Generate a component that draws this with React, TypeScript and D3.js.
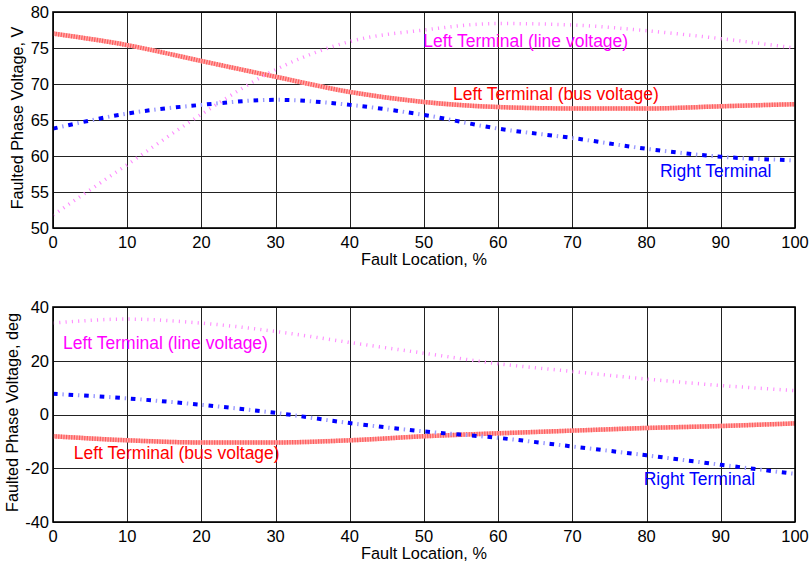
import React from "react";
import * as d3 from "d3";

const faultLocation = [0, 10, 20, 30, 40, 50, 60, 70, 80, 90, 100];

// Top panel: magnitude (V)
const magLine = [51.8, 58.8, 65.8, 72.0, 75.9, 77.5, 78.4, 78.2, 77.4, 76.3, 75.0];
const magBus = [77.0, 75.4, 73.2, 71.0, 68.9, 67.5, 66.8, 66.6, 66.6, 66.9, 67.2];
const magRight = [63.8, 65.9, 67.1, 67.8, 67.1, 65.7, 63.8, 62.5, 61.0, 59.9, 59.4];

// Bottom panel: angle (deg)
const angLine = [34.0, 35.5, 34.0, 30.9, 26.8, 22.8, 18.9, 16.0, 13.2, 10.8, 8.9];
const angBus = [-8.1, -9.6, -10.4, -10.4, -9.6, -8.1, -7.0, -6.0, -5.0, -4.3, -3.3];
const angRight = [7.7, 6.0, 3.6, 0.6, -3.2, -6.3, -8.7, -11.9, -15.2, -18.7, -22.1];

const xTicks = [0, 10, 20, 30, 40, 50, 60, 70, 80, 90, 100];
const magTicks = [50, 55, 60, 65, 70, 75, 80];
const angTicks = [-40, -20, 0, 20, 40];

const labelLine = "Left Terminal (line voltage)";
const labelBus = "Left Terminal (bus voltage)";
const labelRight = "Right Terminal";
const xTitle = "Fault Location, %";
const yTitleTop = "Faulted Phase Voltage, V";
const yTitleBottom = "Faulted Phase Voltage, deg";

const FONT = "'Liberation Sans', Arial, sans-serif";

type Ann = { text: string; x: number; y: number; color: string };

function Panel(props: {
  top: number;
  bottom: number;
  domain: [number, number];
  yTicks: number[];
  line: number[];
  bus: number[];
  right: number[];
  yTitle: string;
  yTitleX: number;
  anns: Ann[];
}) {
  const { top, bottom, domain, yTicks, line, bus, right, yTitle, yTitleX, anns } = props;
  const x = d3.scaleLinear().domain([0, 100]).range([53, 795]);
  const y = d3.scaleLinear().domain(domain).range([bottom, top]);
  const gen = (vals: number[]) =>
    d3
      .line<number>()
      .x((_, i) => x(faultLocation[i]))
      .y((v) => y(v))
      .curve(d3.curveMonotoneX)(vals) || "";
  const [x0, x1] = x.range();
  return (
    <g>
      <rect x={x0} y={top} width={x1 - x0} height={bottom - top} fill="#fff" />
      {xTicks.map((t) => (
        <line key={"gx" + t} x1={Math.round(x(t)) + 0.5} x2={Math.round(x(t)) + 0.5} y1={top} y2={bottom} stroke="#222" strokeWidth={1} />
      ))}
      {yTicks.map((t) => (
        <line key={"gy" + t} x1={x0} x2={x1} y1={Math.round(y(t)) + 0.5} y2={Math.round(y(t)) + 0.5} stroke="#222" strokeWidth={1} />
      ))}
      {/* bus voltage: thick hatched red */}
      <path d={gen(bus)} fill="none" stroke="#ffaaaa" strokeWidth={4.5} />
      <path d={gen(bus)} fill="none" stroke="#ff5c5c" strokeWidth={4.5} strokeDasharray="1.2 1.4" />
      {/* line voltage: light magenta dotted */}
      <path d={gen(line)} fill="none" stroke="#ff8cff" strokeWidth={3.5} strokeDasharray="1.1 5.2" />
      {/* right terminal: blue dash-dot */}
      <path d={gen(right)} fill="none" stroke="#0000ff" strokeWidth={4} strokeDasharray="4.6 11" />
      <path d={gen(right)} fill="none" stroke="#9a9aff" strokeWidth={4} strokeDasharray="1.4 14.2" strokeDashoffset={-9.4} />
      <rect x={x0} y={top} width={x1 - x0} height={bottom - top} fill="none" stroke="#000" strokeWidth={1.6} />
      {xTicks.map((t) => (
        <text key={"tx" + t} x={x(t)} y={bottom + 20} textAnchor="middle" fontSize={16.5} fontFamily={FONT} fill="#000">
          {t}
        </text>
      ))}
      {yTicks.map((t) => (
        <text key={"ty" + t} x={49} y={y(t) + 5.8} textAnchor="end" fontSize={16.5} fontFamily={FONT} fill="#000">
          {t}
        </text>
      ))}
      <text x={(x0 + x1) / 2} y={bottom + 37} textAnchor="middle" fontSize={16.3} fontFamily={FONT} fill="#000">
        {xTitle}
      </text>
      <text
        transform={`translate(${yTitleX},${(top + bottom) / 2 - 2}) rotate(-90)`}
        textAnchor="middle"
        fontSize={16.2}
        fontFamily={FONT}
        fill="#000"
      >
        {yTitle}
      </text>
      {anns.map((a) => (
        <text key={a.text} x={x(a.x)} y={y(a.y)} fontSize={17.5} fontFamily={FONT} fill={a.color}>
          {a.text}
        </text>
      ))}
    </g>
  );
}

export default function App() {
  return (
    <svg width={811} height={570} style={{ position: "absolute", left: 0, top: 0, background: "#fff" }}>
      <rect x={0} y={0} width={811} height={570} fill="#fff" />
      <Panel
        top={12}
        bottom={228}
        domain={[50, 80]}
        yTicks={magTicks}
        line={magLine}
        bus={magBus}
        right={magRight}
        yTitle={yTitleTop}
        yTitleX={23}
        anns={[
          { text: labelLine, x: 49.9, y: 75.1, color: "#ff00ff" },
          { text: labelBus, x: 53.9, y: 67.8, color: "#ff0000" },
          { text: labelRight, x: 81.8, y: 57.1, color: "#0000ff" },
        ]}
      />
      <Panel
        top={307}
        bottom={522}
        domain={[-40, 40]}
        yTicks={angTicks}
        line={angLine}
        bus={angBus}
        right={angRight}
        yTitle={yTitleBottom}
        yTitleX={18}
        anns={[
          { text: labelLine, x: 1.35, y: 24.3, color: "#ff00ff" },
          { text: labelBus, x: 2.8, y: -16.6, color: "#ff0000" },
          { text: labelRight, x: 79.6, y: -26.3, color: "#0000ff" },
        ]}
      />
    </svg>
  );
}
